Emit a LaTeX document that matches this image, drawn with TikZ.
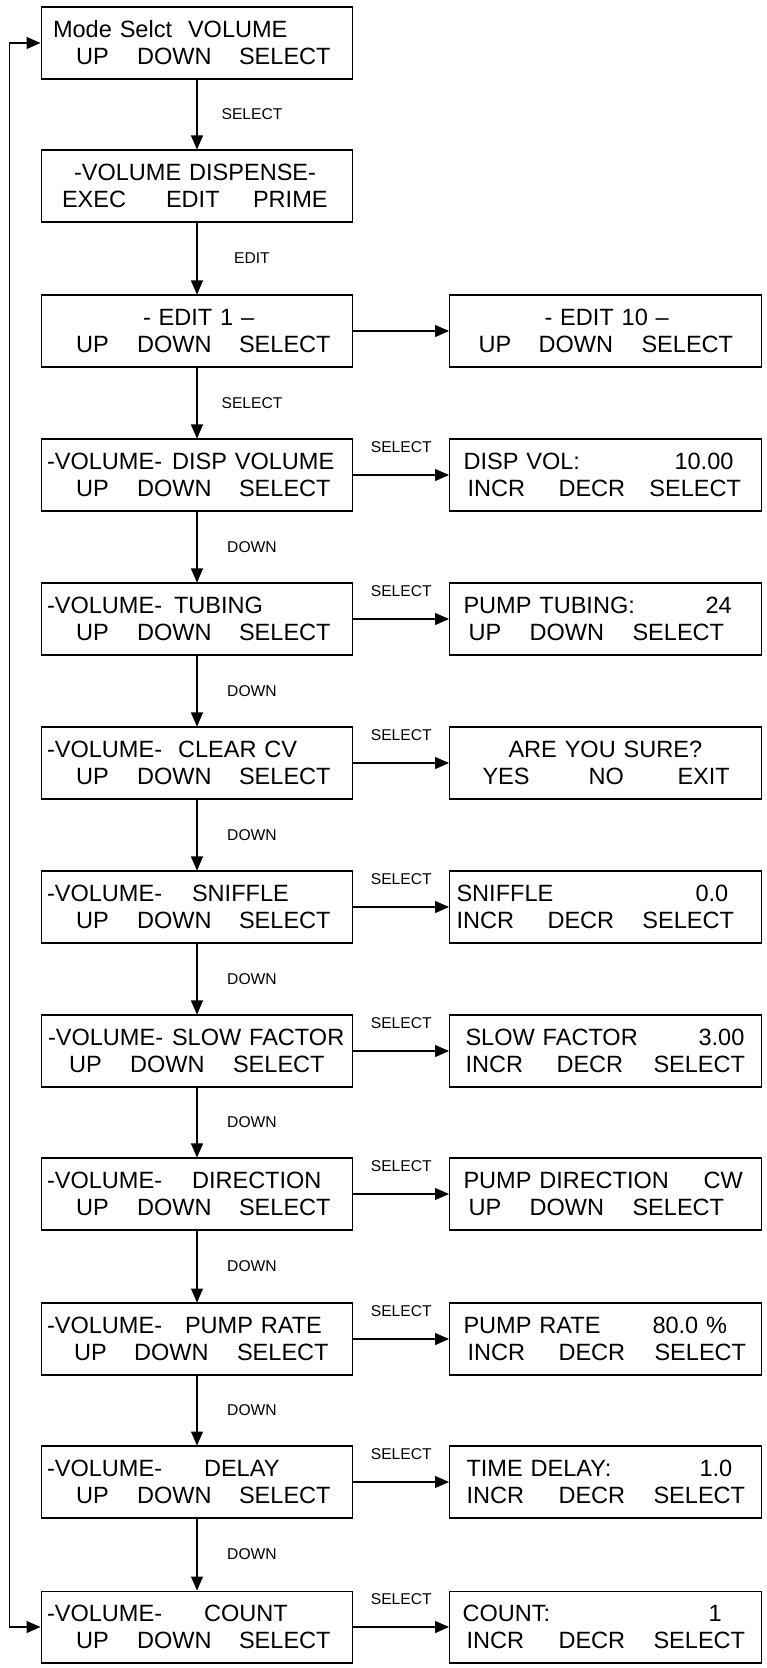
\documentclass[tikz,border=0pt]{standalone}
\usepackage{fontspec}
\setmainfont{Liberation Sans}
\usepackage{tikz}
\usetikzlibrary{arrows.meta, positioning}
\setlength{\parindent}{0pt}
\newlength{\px}
\setlength{\px}{0.02cm}
% put one word at a fixed offset from the left edge of a screen
\newcommand{\tx}[2]{\makebox[0pt][l]{\hspace*{#1\px}#2}}
\newcommand{\uds}{\tx{35}{UP}\tx{96}{DOWN}\tx{198}{SELECT}}
\tikzstyle{lcd}  = [rectangle, draw, line width=0.6pt, minimum width=6.24cm, minimum height=1.44cm,
                    text width=6.24cm, inner sep=0pt, align=left, font=\fontsize{13.4}{15.4}\selectfont]
\tikzstyle{arr}  = [-{Triangle[length=0.28cm, width=0.24cm]}, line width=0.6pt]
\tikzstyle{back} = [{Triangle[length=0.28cm, width=0.24cm]}-{Triangle[length=0.28cm, width=0.24cm]}, line width=0.6pt]

\begin{document}
\begin{tikzpicture}[x=0.02cm, y=-0.02cm,
      lbl/.style={font=\fontsize{8.9}{10}\selectfont, inner sep=0pt},
    ]
    \useasboundingbox (0,0) rectangle (767,1668);

    % main menu column
    \node[lcd] (mode)  at (197,43)   {\tx{12}{Mode Selct}\tx{147}{VOLUME}\\ \uds};
    \node[lcd] (disp)  at (197,186)  {\tx{33}{-VOLUME DISPENSE-}\\ \tx{21}{EXEC}\tx{125}{EDIT}\tx{212}{PRIME}};
    \node[lcd] (edit)  at (197,331)  {\tx{102}{- EDIT 1 –}\\ \uds};
    \node[lcd] (vol)   at (197,475)  {\tx{6}{-VOLUME-}\tx{131}{DISP VOLUME}\\ \uds};
    \node[lcd] (tube)  at (197,619)  {\tx{6}{-VOLUME-}\tx{133}{TUBING}\\ \uds};
    \node[lcd] (clear) at (197,763)  {\tx{6}{-VOLUME-}\tx{137}{CLEAR CV}\\ \uds};
    \node[lcd] (sniff) at (197,907)  {\tx{6}{-VOLUME-}\tx{151}{SNIFFLE}\\ \uds};
    \node[lcd] (slow)  at (197,1051) {\tx{7}{-VOLUME-}\tx{131}{SLOW FACTOR}\\ \tx{28}{UP}\tx{89}{DOWN}\tx{192}{SELECT}};
    \node[lcd] (dir)   at (197,1194) {\tx{6}{-VOLUME-}\tx{151}{DIRECTION}\\ \uds};
    \node[lcd] (rate)  at (197,1339) {\tx{6}{-VOLUME-}\tx{144}{PUMP RATE}\\ \tx{33}{UP}\tx{93}{DOWN}\tx{196}{SELECT}};
    \node[lcd] (delay) at (197,1482) {\tx{6}{-VOLUME-}\tx{163}{DELAY}\\ \uds};
    \node[lcd] (count) at (197,1627) {\tx{6}{-VOLUME-}\tx{163}{COUNT}\\ \uds};

    % value screens
    \node[lcd] (editx)  at (605.5,331)  {\tx{95}{- EDIT 10 –}\\ \tx{29}{UP}\tx{89}{DOWN}\tx{192}{SELECT}};
    \node[lcd] (volv)   at (605.5,475)  {\tx{14}{DISP VOL:}\tx{225}{10.00}\\ \tx{18}{INCR}\tx{109}{DECR}\tx{200}{SELECT}};
    \node[lcd] (tubev)  at (605.5,619)  {\tx{14}{PUMP TUBING:}\tx{256}{24}\\ \tx{19}{UP}\tx{80}{DOWN}\tx{183}{SELECT}};
    \node[lcd] (clearv) at (605.5,763)  {\tx{59}{ARE YOU SURE?}\\ \tx{33}{YES}\tx{139}{NO}\tx{228}{EXIT}};
    \node[lcd] (sniffv) at (605.5,907)  {\tx{7}{SNIFFLE}\tx{246}{0.0}\\ \tx{7}{INCR}\tx{98}{DECR}\tx{193}{SELECT}};
    \node[lcd] (slowv)  at (605.5,1051) {\tx{16}{SLOW FACTOR}\tx{249}{3.00}\\ \tx{16}{INCR}\tx{107}{DECR}\tx{204}{SELECT}};
    \node[lcd] (dirv)   at (605.5,1194) {\tx{14}{PUMP DIRECTION}\tx{254}{CW}\\ \tx{19}{UP}\tx{80}{DOWN}\tx{183}{SELECT}};
    \node[lcd] (ratev)  at (605.5,1339) {\tx{14}{PUMP RATE}\tx{203}{80.0 \%}\\ \tx{18}{INCR}\tx{109}{DECR}\tx{205}{SELECT}};
    \node[lcd] (delayv) at (605.5,1482) {\tx{17}{TIME DELAY:}\tx{250}{1.0}\\ \tx{17}{INCR}\tx{109}{DECR}\tx{204}{SELECT}};
    \node[lcd] (countv) at (605.5,1627) {\tx{13}{COUNT:}\tx{259}{1}\\ \tx{17}{INCR}\tx{109}{DECR}\tx{204}{SELECT}};

    % down the menu
    \draw[arr] (mode)  -- (disp)  node[lbl, midway, xshift=1.1cm] {SELECT};
    \draw[arr] (disp)  -- (edit)  node[lbl, midway, xshift=1.1cm] {EDIT};
    \draw[arr] (edit)  -- (vol)   node[lbl, midway, xshift=1.1cm] {SELECT};
    \draw[arr] (vol)   -- (tube)  node[lbl, midway, xshift=1.1cm] {DOWN};
    \draw[arr] (tube)  -- (clear) node[lbl, midway, xshift=1.1cm] {DOWN};
    \draw[arr] (clear) -- (sniff) node[lbl, midway, xshift=1.1cm] {DOWN};
    \draw[arr] (sniff) -- (slow)  node[lbl, midway, xshift=1.1cm] {DOWN};
    \draw[arr] (slow)  -- (dir)   node[lbl, midway, xshift=1.1cm] {DOWN};
    \draw[arr] (dir)   -- (rate)  node[lbl, midway, xshift=1.1cm] {DOWN};
    \draw[arr] (rate)  -- (delay) node[lbl, midway, xshift=1.1cm] {DOWN};
    \draw[arr] (delay) -- (count) node[lbl, midway, xshift=1.1cm] {DOWN};

    % across to the values
    \draw[arr] (edit)  -- (editx);
    \draw[arr] (vol)   -- (volv)   node[lbl, midway, above=0.43cm] {SELECT};
    \draw[arr] (tube)  -- (tubev)  node[lbl, midway, above=0.43cm] {SELECT};
    \draw[arr] (clear) -- (clearv) node[lbl, midway, above=0.43cm] {SELECT};
    \draw[arr] (sniff) -- (sniffv) node[lbl, midway, above=0.43cm] {SELECT};
    \draw[arr] (slow)  -- (slowv)  node[lbl, midway, above=0.43cm] {SELECT};
    \draw[arr] (dir)   -- (dirv)   node[lbl, midway, above=0.43cm] {SELECT};
    \draw[arr] (rate)  -- (ratev)  node[lbl, midway, above=0.43cm] {SELECT};
    \draw[arr] (delay) -- (delayv) node[lbl, midway, above=0.43cm] {SELECT};
    \draw[arr] (count) -- (countv) node[lbl, midway, above=0.43cm] {SELECT};

    % back to the top
    \draw[back] (count.west) -- ++(-31,0) |- (mode.west);
\end{tikzpicture}
\end{document}
